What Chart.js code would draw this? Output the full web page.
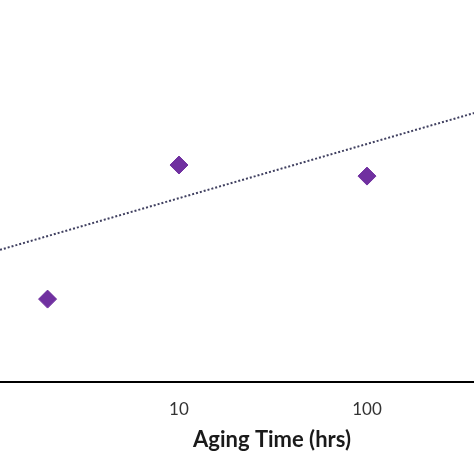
<!DOCTYPE html>
<html>
<head>
<meta charset="utf-8">
<script src="https://cdn.jsdelivr.net/npm/chart.js@4"></script>
<style>
  html, body { margin: 0; padding: 0; background: #fff; }
  #wrap { width: 474px; height: 474px; position: relative; }
</style>
</head>
<body>
<div id="wrap"><canvas id="scatter-chart"></canvas></div>
<script>
// Data (y in arbitrary units, axis not shown)
const agingHours = [2, 10, 100];
const measured = [21.7, 56.8, 53.9];

// dotted log trendline, read at the two visible edges
const trendHours = [1.117, 370.8];
const trendValues = [34.6, 70.4];

const xTicks = [10, 100];

// the original plot is cropped on the left, so its axis title sits right of centre
const titleShift = 35;

const ctx = document.getElementById("scatter-chart");

new Chart(ctx, {
  type: "scatter",
  data: {
    datasets: [
      {
        label: "Trend",
        data: trendHours.map((x, i) => ({ x: x, y: trendValues[i] })),
        showLine: true,
        borderColor: "#404060",
        borderWidth: 2,
        borderDash: [2, 2],
        pointRadius: 0,
        fill: false,
      },
      {
        label: "Measured",
        data: agingHours.map((x, i) => ({ x: x, y: measured[i] })),
        pointStyle: "rectRot",
        pointRadius: 9,
        backgroundColor: "#7030A0",
        borderColor: "#7030A0",
        borderWidth: 1,
      },
    ],
  },
  options: {
    responsive: true,
    maintainAspectRatio: false,
    animation: false,
    layout: { autoPadding: false, padding: { left: 0, right: 0, top: 0, bottom: 21 } },
    plugins: {
      legend: { display: false },
      tooltip: { enabled: false },
    },
    scales: {
      x: {
        type: "logarithmic",
        min: trendHours[0],
        max: trendHours[1],
        afterBuildTicks: (scale) => {
          scale.ticks = xTicks.map((v) => ({ value: v }));
        },
        afterFit: (scale) => {
          scale.height = 71;
          if (!scale._titleShifted) {
            const drawTitle = scale.drawTitle;
            scale.drawTitle = function () {
              this.ctx.save();
              this.ctx.translate(titleShift, 0);
              drawTitle.call(this);
              this.ctx.restore();
            };
            scale._titleShifted = true;
          }
        },
        grid: { display: false, drawTicks: false },
        border: { display: true, color: "#000", width: 2 },
        ticks: {
          padding: 17,
          color: "#333",
          font: { family: "Lato", size: 17 },
          maxRotation: 0,
          callback: (v) => String(v),
        },
        title: {
          display: true,
          text: "Aging Time (hrs)",
          color: "#1a1a1a",
          font: { family: "Lato", size: 22, weight: "bold" },
          padding: { top: 0, bottom: 0 },
        },
      },
      y: {
        display: false,
        min: 0,
        max: 100,
      },
    },
  },
});
</script>
</body>
</html>
